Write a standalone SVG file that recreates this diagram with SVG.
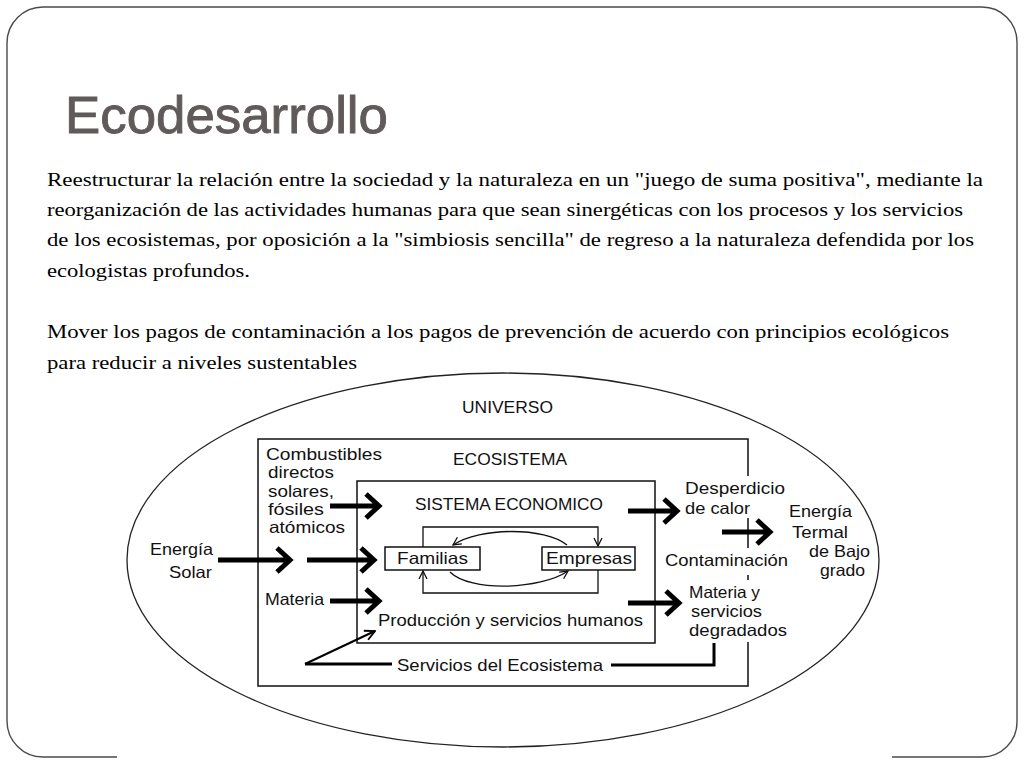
<svg xmlns="http://www.w3.org/2000/svg" width="1024" height="768" viewBox="0 0 1024 768">
<defs>
<style>
.frame{fill:none;stroke:#4a4a4a;stroke-width:1.4}
.title{font-family:"Liberation Sans Narrow","Liberation Sans",Arial,sans-serif;font-size:52px;fill:#605b5a;stroke:#605b5a;stroke-width:0.9}
.body{font-family:"Liberation Serif","Times New Roman",serif;font-size:19px;fill:#000}
.lbl{font-family:"Liberation Sans",Arial,sans-serif;font-size:16.5px;fill:#111}
.box{fill:none;stroke:#111;stroke-width:1.5}
.ell{fill:none;stroke:#222;stroke-width:1.3}
.thick{fill:none;stroke:#000;stroke-width:5;stroke-linejoin:miter}
.thin{fill:none;stroke:#111;stroke-width:1.3}
.med{fill:none;stroke:#000;stroke-width:3}
</style>
<marker id="open" viewBox="0 0 10 10" refX="9" refY="5" markerWidth="10" markerHeight="10" markerUnits="userSpaceOnUse" orient="auto">
<path d="M1,1 L9,5 L1,9" fill="none" stroke="#111" stroke-width="1.3"/>
</marker>
<marker id="open2" viewBox="0 0 12 12" refX="11" refY="6" markerWidth="12" markerHeight="12" markerUnits="userSpaceOnUse" orient="auto">
<path d="M1,1 L11,6 L1,11" fill="none" stroke="#000" stroke-width="1.8"/>
</marker>
</defs>
<rect width="1024" height="768" fill="#fff"/>
<path class="frame" d="M117,757 H43 A36,36 0 0 1 7,721 V43 A36,36 0 0 1 43,7 H982 A35,35 0 0 1 1017,42 V722 A35,35 0 0 1 982,757 H892"/>
<text class="title" x="65" y="133" textLength="323" lengthAdjust="spacingAndGlyphs">Ecodesarrollo</text>
<g id="texto">
<text class="body" x="47" y="186" textLength="936" lengthAdjust="spacingAndGlyphs">Reestructurar la relación entre la sociedad y la naturaleza en un "juego de suma positiva", mediante la</text>
<text class="body" x="47" y="216" textLength="916" lengthAdjust="spacingAndGlyphs">reorganización de las actividades humanas para que sean sinergéticas con los procesos y los servicios</text>
<text class="body" x="47" y="246" textLength="927" lengthAdjust="spacingAndGlyphs">de los ecosistemas, por oposición a la "simbiosis sencilla" de regreso a la naturaleza defendida por los</text>
<text class="body" x="47" y="277" textLength="203" lengthAdjust="spacingAndGlyphs">ecologistas profundos.</text>
<text class="body" x="47" y="338" textLength="902" lengthAdjust="spacingAndGlyphs">Mover los pagos de contaminación a los pagos de prevención de acuerdo con principios ecológicos</text>
<text class="body" x="47" y="369" textLength="310" lengthAdjust="spacingAndGlyphs">para reducir a niveles sustentables</text>
</g>
<g id="universo">
<ellipse class="ell" cx="503" cy="560" rx="376" ry="187"/>
<text class="lbl" x="462" y="413" textLength="91" lengthAdjust="spacingAndGlyphs">UNIVERSO</text>
</g>
<g id="ecosistema">
<path class="box" d="M748,476 V439 H258 V686 H748 V642 M748,518 V548 M748,575 V580"/>
<text class="lbl" x="453" y="465" textLength="114" lengthAdjust="spacingAndGlyphs">ECOSISTEMA</text>
</g>
<g id="sistema-economico">
<rect class="box" x="357" y="481" width="298" height="162"/>
<text class="lbl" x="415" y="510" textLength="188" lengthAdjust="spacingAndGlyphs">SISTEMA ECONOMICO</text>
</g>
<g id="familias">
<rect class="box" x="385" y="547" width="95" height="23"/>
<text class="lbl" x="397" y="564" textLength="71" lengthAdjust="spacingAndGlyphs">Familias</text>
</g>
<g id="empresas">
<rect class="box" x="542" y="547" width="93" height="23"/>
<text class="lbl" x="546" y="564" textLength="86" lengthAdjust="spacingAndGlyphs">Empresas</text>
</g>
<g id="combustibles">
<text class="lbl" x="266" y="460" textLength="116" lengthAdjust="spacingAndGlyphs">Combustibles</text>
<text class="lbl" x="268" y="478" textLength="66" lengthAdjust="spacingAndGlyphs">directos</text>
<text class="lbl" x="268" y="497" textLength="66" lengthAdjust="spacingAndGlyphs">solares,</text>
<text class="lbl" x="268" y="515" textLength="56" lengthAdjust="spacingAndGlyphs">fósiles</text>
<text class="lbl" x="269" y="533" textLength="76" lengthAdjust="spacingAndGlyphs">atómicos</text>
</g>
<g id="energia-solar">
<text class="lbl" x="150" y="555" textLength="63" lengthAdjust="spacingAndGlyphs">Energía</text>
<text class="lbl" x="169" y="578" textLength="43" lengthAdjust="spacingAndGlyphs">Solar</text>
</g>
<g id="materia">
<text class="lbl" x="265" y="605" textLength="59" lengthAdjust="spacingAndGlyphs">Materia</text>
</g>
<g id="produccion">
<text class="lbl" x="378" y="626" textLength="265" lengthAdjust="spacingAndGlyphs">Producción y servicios humanos</text>
</g>
<g id="servicios-ecosistema">
<text class="lbl" x="397" y="671" textLength="206" lengthAdjust="spacingAndGlyphs">Servicios del Ecosistema</text>
</g>
<g id="desperdicio">
<text class="lbl" x="685" y="494" textLength="100" lengthAdjust="spacingAndGlyphs">Desperdicio</text>
<text class="lbl" x="685" y="514" textLength="65" lengthAdjust="spacingAndGlyphs">de calor</text>
</g>
<g id="contaminacion">
<text class="lbl" x="665" y="566" textLength="123" lengthAdjust="spacingAndGlyphs">Contaminación</text>
</g>
<g id="energia-termal">
<text class="lbl" x="789" y="517" textLength="63" lengthAdjust="spacingAndGlyphs">Energía</text>
<text class="lbl" x="792" y="538" textLength="56" lengthAdjust="spacingAndGlyphs">Termal</text>
<text class="lbl" x="809" y="557" textLength="61" lengthAdjust="spacingAndGlyphs">de Bajo</text>
<text class="lbl" x="820" y="576" textLength="45" lengthAdjust="spacingAndGlyphs">grado</text>
</g>
<g id="materia-degradada">
<text class="lbl" x="689" y="598" textLength="71" lengthAdjust="spacingAndGlyphs">Materia y</text>
<text class="lbl" x="691" y="617" textLength="71" lengthAdjust="spacingAndGlyphs">servicios</text>
<text class="lbl" x="689" y="636" textLength="98" lengthAdjust="spacingAndGlyphs">degradados</text>
</g>
<g id="conectores">
<path class="thick" d="M330,506 H379 M366,494 L379,506 L366,518"/>
<path class="thick" d="M218,560 H290 M277,548 L290,560 L277,572"/>
<path class="thick" d="M307,560 H374 M361,548 L374,560 L361,572"/>
<path class="thick" d="M330,601 H379 M366,589 L379,601 L366,613"/>
<path class="thick" d="M628,511 H677 M664,499 L677,511 L664,523"/>
<path class="thick" d="M722,532 H770 M757,520 L770,532 L757,544"/>
<path class="thick" d="M628,603 H679 M666,591 L679,603 L666,615"/>
<path class="thin" d="M423,547 V527 H598 V546" marker-end="url(#open)"/>
<path class="thin" d="M598,570 V593 H423 V571" marker-end="url(#open)"/>
<path class="thin" d="M567,545 C545,527 480,527 453,545" marker-end="url(#open)"/>
<path class="thin" d="M450,572 C470,592 540,590 568,571" marker-end="url(#open)"/>
<path class="med" d="M392,664 H305"/>
<path fill="none" stroke="#000" stroke-width="2" d="M305,664 L375,631" marker-end="url(#open2)"/>
<path class="med" d="M611,665 H714 V643"/>
</g>
</svg>
